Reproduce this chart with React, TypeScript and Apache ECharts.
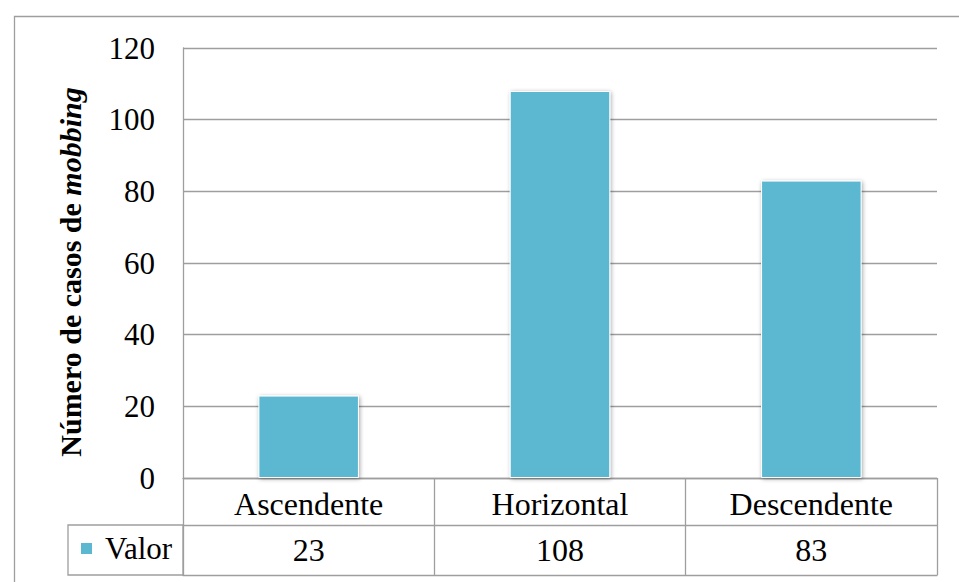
import React, { useEffect, useRef } from "react";
import * as echarts from "echarts";

const categories = ["Ascendente", "Horizontal", "Descendente"];
const values = [23, 108, 83];
const seriesName = "Valor";
const yTicks = { min: 0, max: 120, interval: 20 };

const FONT = "Liberation Serif";
const BAR = "#5BB8D0";
const LINE = "#9E9E9E";

export default function App() {
  const ref = useRef<HTMLDivElement>(null);

  useEffect(() => {
    if (!ref.current) return;
    const chart = echarts.init(ref.current, undefined, { renderer: "svg" });
    chart.setOption({
      animation: false,
      backgroundColor: "#ffffff",
      textStyle: { fontFamily: FONT },
      grid: { left: 183, right: 22, top: 48, bottom: 104 },
      legend: {
        data: [seriesName],
        left: 79,
        top: 533,
        padding: 0,
        icon: "rect",
        itemWidth: 13,
        itemHeight: 13,
        selectedMode: false,
        textStyle: { fontFamily: FONT, fontSize: 31, color: "#000", padding: [0, 0, 0, 7] },
      },
      xAxis: [
        {
          type: "category",
          data: categories,
          position: "bottom",
          axisLine: { show: true, lineStyle: { color: LINE, width: 1.3 } },
          axisTick: { show: true, length: 97, lineStyle: { color: LINE, width: 1.3 } },
          axisLabel: {
            fontFamily: FONT,
            fontSize: 32,
            color: "#000",
            margin: 26,
            verticalAlign: "middle",
          },
        },
        {
          type: "category",
          data: categories,
          position: "bottom",
          offset: 47,
          axisLine: { show: true, lineStyle: { color: LINE, width: 1.3 } },
          axisTick: { show: false },
          axisLabel: {
            fontFamily: FONT,
            fontSize: 32,
            color: "#000",
            margin: 25,
            verticalAlign: "middle",
            formatter: (_v: string, i: number) => String(values[i]),
          },
        },
        {
          type: "category",
          data: categories,
          position: "bottom",
          offset: 97,
          axisLine: { show: true, lineStyle: { color: LINE, width: 1.3 } },
          axisTick: { show: false },
          axisLabel: { show: false },
        },
      ],
      yAxis: {
        type: "value",
        min: yTicks.min,
        max: yTicks.max,
        interval: yTicks.interval,
        name: "{a|Número de casos de }{b|mobbing}",
        nameLocation: "middle",
        nameGap: 98,
        nameRotate: 90,
        nameTextStyle: {
          padding: [0, 18, 0, 0],
          rich: {
            a: { fontFamily: FONT, fontSize: 30, fontWeight: "bold", color: "#000" },
            b: { fontFamily: FONT, fontSize: 30, fontWeight: "bold", fontStyle: "italic", color: "#000" },
          },
        },
        axisLine: { show: true, lineStyle: { color: LINE, width: 1.3 } },
        axisTick: { show: false },
        axisLabel: { fontFamily: FONT, fontSize: 31, color: "#000", margin: 28 },
        splitLine: { show: true, lineStyle: { color: LINE, width: 1.3 } },
      },
      series: [
        {
          name: seriesName,
          type: "bar",
          data: values,
          barWidth: "40%",
          itemStyle: {
            color: BAR,
            borderColor: "#ffffff",
            borderWidth: 1,
            shadowBlur: 4,
            shadowColor: "rgba(0,0,0,0.35)",
            shadowOffsetX: 1,
            shadowOffsetY: 1,
          },
        },
      ],
      color: [BAR],
      graphic: [
        {
          type: "rect",
          left: 12,
          top: 14,
          shape: { x: 0, y: 0, width: 960, height: 600 },
          style: { fill: "none", stroke: LINE, lineWidth: 1.3 },
          silent: true,
        },
        {
          type: "rect",
          shape: { x: 68, y: 525, width: 115, height: 50 },
          style: { fill: "none", stroke: LINE, lineWidth: 1.3 },
          silent: true,
          z: 10,
        },
      ],
    });
    return () => chart.dispose();
  }, []);

  return (
    <div
      ref={ref}
      style={{ position: "fixed", left: 0, top: 0, width: 959, height: 582 }}
    />
  );
}
